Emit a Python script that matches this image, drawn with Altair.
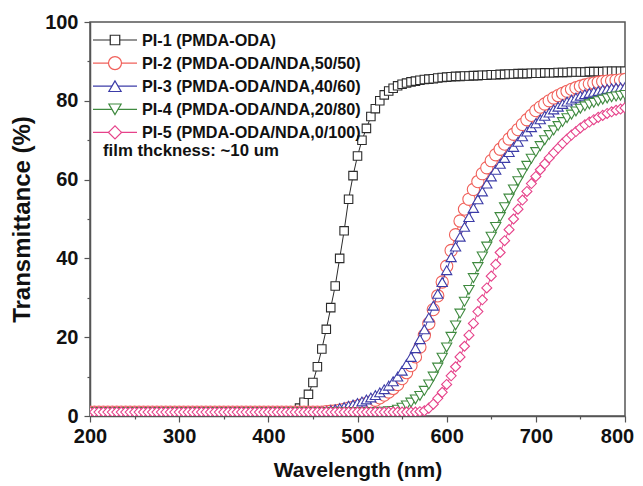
import altair as alt
import pandas as pd

WAVELENGTH = list(range(200, 805, 5))

PI1 = [
    1.0, 1.0, 1.0, 1.0, 1.0, 1.0, 1.0, 1.0, 1.0, 1.0,
    1.0, 1.0, 1.0, 1.0, 1.0, 1.0, 1.0, 1.0, 1.0, 1.0,
    1.0, 1.0, 1.0, 1.0, 1.0, 1.0, 1.0, 1.0, 1.0, 1.0,
    1.0, 1.0, 1.0, 1.0, 1.0, 1.0, 1.0, 1.0, 1.0, 1.0,
    1.0, 1.0, 1.0, 1.0, 1.0, 1.1, 1.3, 2.0, 3.5, 5.5,
    8.5, 12.5, 17.0, 22.0, 27.5, 33.0, 40.0, 47.0, 55.0, 61.0,
    66.0, 70.0, 73.0, 76.0, 78.0, 80.0, 81.5, 82.5, 83.2, 83.8,
    84.2, 84.5, 84.8, 85.0, 85.2, 85.4, 85.5, 85.6, 85.8, 85.9,
    86.0, 86.1, 86.2, 86.2, 86.3, 86.3, 86.4, 86.4, 86.5, 86.5,
    86.6, 86.6, 86.7, 86.7, 86.8, 86.8, 86.9, 86.9, 86.9, 87.0,
    87.0, 87.0, 87.1, 87.1, 87.1, 87.2, 87.2, 87.2, 87.3, 87.3,
    87.3, 87.3, 87.4, 87.4, 87.4, 87.4, 87.5, 87.5, 87.5, 87.5,
    87.5,
]

PI2 = [
    1.0, 1.0, 1.0, 1.0, 1.0, 1.0, 1.0, 1.0, 1.0, 1.0,
    1.0, 1.0, 1.0, 1.0, 1.0, 1.0, 1.0, 1.0, 1.0, 1.0,
    1.0, 1.0, 1.0, 1.0, 1.0, 1.0, 1.0, 1.0, 1.0, 1.0,
    1.0, 1.0, 1.0, 1.0, 1.0, 1.0, 1.0, 1.0, 1.0, 1.0,
    1.0, 1.0, 1.0, 1.0, 1.0, 1.0, 1.0, 1.0, 1.0, 1.0,
    1.0, 1.0, 1.0, 1.1, 1.2, 1.3, 1.5, 1.7, 2.0, 2.2,
    2.5, 2.8, 3.2, 3.6, 4.0, 4.6, 5.3, 6.1, 7.0, 8.0,
    9.5, 11.0, 12.8, 15.0, 17.5, 20.5, 23.5, 27.0, 30.5, 34.0,
    38.0, 42.0, 46.0, 49.5, 52.5, 55.0, 57.5, 59.5, 61.5, 63.0,
    64.8, 66.3, 67.7, 69.0, 70.3, 71.5, 72.7, 74.0, 75.2, 76.3,
    77.5, 78.4, 79.2, 80.0, 80.7, 81.3, 81.9, 82.4, 82.9, 83.3,
    83.7, 84.0, 84.3, 84.5, 84.7, 84.9, 85.0, 85.1, 85.2, 85.3,
    85.4,
]

PI3 = [
    1.0, 1.0, 1.0, 1.0, 1.0, 1.0, 1.0, 1.0, 1.0, 1.0,
    1.0, 1.0, 1.0, 1.0, 1.0, 1.0, 1.0, 1.0, 1.0, 1.0,
    1.0, 1.0, 1.0, 1.0, 1.0, 1.0, 1.0, 1.0, 1.0, 1.0,
    1.0, 1.0, 1.0, 1.0, 1.0, 1.0, 1.0, 1.0, 1.0, 1.0,
    1.0, 1.0, 1.0, 1.0, 1.0, 1.0, 1.0, 1.0, 1.0, 1.0,
    1.0, 1.0, 1.1, 1.2, 1.5, 1.7, 2.0, 2.3, 2.6, 2.9,
    3.3, 3.7, 4.2, 4.7, 5.3, 6.0, 6.8, 7.7, 8.8, 10.0,
    11.5, 13.2, 15.0, 17.2, 19.5, 22.0, 25.0, 28.0, 31.0, 34.0,
    37.0, 40.3, 43.0, 45.5, 48.0, 50.5, 52.8, 55.0, 57.0, 59.0,
    60.8, 62.5, 64.0, 65.5, 67.0, 68.3, 69.6, 71.0, 72.2, 73.3,
    74.3, 75.3, 76.2, 77.0, 77.8, 78.5, 79.2, 79.8, 80.3, 80.8,
    81.3, 81.7, 82.0, 82.3, 82.5, 82.8, 83.0, 83.2, 83.3, 83.4,
    83.5,
]

PI4 = [
    1.0, 1.0, 1.0, 1.0, 1.0, 1.0, 1.0, 1.0, 1.0, 1.0,
    1.0, 1.0, 1.0, 1.0, 1.0, 1.0, 1.0, 1.0, 1.0, 1.0,
    1.0, 1.0, 1.0, 1.0, 1.0, 1.0, 1.0, 1.0, 1.0, 1.0,
    1.0, 1.0, 1.0, 1.0, 1.0, 1.0, 1.0, 1.0, 1.0, 1.0,
    1.0, 1.0, 1.0, 1.0, 1.0, 1.0, 1.0, 1.0, 1.0, 1.0,
    1.0, 1.0, 1.0, 1.0, 1.0, 1.0, 1.0, 1.0, 1.0, 1.0,
    1.0, 1.0, 1.0, 1.0, 1.0, 1.0, 1.1, 1.2, 1.3, 1.6,
    2.1, 2.7, 3.4, 4.2, 5.1, 6.4, 8.0, 10.0, 12.3, 14.8,
    17.4, 20.1, 23.0, 26.0, 29.0, 32.0, 35.0, 37.8, 40.5, 43.0,
    45.5, 48.0, 50.5, 53.0, 55.2, 57.5, 59.6, 61.6, 63.5, 65.3,
    67.0, 68.5, 70.0, 71.3, 72.5, 73.6, 74.6, 75.6, 76.5, 77.3,
    78.0, 78.6, 79.1, 79.5, 79.9, 80.3, 80.6, 80.9, 81.1, 81.3,
    81.5,
]

PI5 = [
    1.0, 1.0, 1.0, 1.0, 1.0, 1.0, 1.0, 1.0, 1.0, 1.0,
    1.0, 1.0, 1.0, 1.0, 1.0, 1.0, 1.0, 1.0, 1.0, 1.0,
    1.0, 1.0, 1.0, 1.0, 1.0, 1.0, 1.0, 1.0, 1.0, 1.0,
    1.0, 1.0, 1.0, 1.0, 1.0, 1.0, 1.0, 1.0, 1.0, 1.0,
    1.0, 1.0, 1.0, 1.0, 1.0, 1.0, 1.0, 1.0, 1.0, 1.0,
    1.0, 1.0, 1.0, 1.0, 1.0, 1.0, 1.0, 1.0, 1.0, 1.0,
    1.0, 1.0, 1.0, 1.0, 1.0, 1.0, 1.0, 1.0, 1.0, 1.0,
    1.0, 1.0, 1.0, 1.0, 1.1, 1.3, 2.0, 3.0, 4.5, 6.0,
    8.0, 10.2, 12.5, 15.0, 17.7, 20.5, 23.5, 26.5, 29.5, 32.5,
    35.5, 38.5, 41.5, 44.5, 47.3, 50.0, 52.5, 54.8, 57.0, 59.0,
    60.8, 62.5, 64.0, 65.5, 66.8, 68.0, 69.2, 70.3, 71.3, 72.2,
    73.1, 73.9, 74.6, 75.2, 75.8, 76.3, 76.8, 77.2, 77.6, 77.9,
    78.2,
]

LABELS = [
    "PI-1 (PMDA-ODA)",
    "PI-2 (PMDA-ODA/NDA,50/50)",
    "PI-3 (PMDA-ODA/NDA,40/60)",
    "PI-4 (PMDA-ODA/NDA,20/80)",
    "PI-5 (PMDA-ODA/NDA,0/100)",
]
COLORS = ["#2b2b2b", "#f0605a", "#3c3ca8", "#3f8a3f", "#e6428a"]
SHAPES = ["square", "circle", "triangle-up", "triangle-down", "diamond"]
SIZES = [72, 150, 105, 105, 100]
LEGEND_SIZES = [90, 170, 150, 150, 170]
NOTE = "film thckness: ~10 um"

SERIES_VALUES = [PI1, PI2, PI3, PI4, PI5]
for s in SERIES_VALUES:
    assert len(s) == len(WAVELENGTH)

FONT = "Liberation Sans"

x_axis = alt.Axis(
    values=list(range(200, 801, 50)),
    labelExpr="datum.value % 100 === 0 ? datum.label : ''",
    tickSize={"condition": {"test": "datum.value % 100 === 0", "value": 6}, "value": 3},
    labelOffset={"condition": {"test": "datum.value === 800", "value": -8}, "value": 0},
    title="Wavelength (nm)",
    titleFontSize=21,
    grid=False,
    labelFlush=False,
    labelPadding=4,
    titlePadding=13,
)
y_axis = alt.Axis(
    values=list(range(0, 101, 10)),
    labelExpr="datum.value % 20 === 0 ? datum.label : ''",
    tickSize={"condition": {"test": "datum.value % 20 === 0", "value": 6}, "value": 3},
    title="Transmittance (%)",
    titleFontSize=24,
    grid=False,
    labelFlush=False,
    labelPadding=6,
    titlePadding=10,
)
x_scale = alt.Scale(domain=[200, 800], nice=False, zero=False)
y_scale = alt.Scale(domain=[0, 100], nice=False)

layers = []
for vals, color, shape, size in zip(SERIES_VALUES, COLORS, SHAPES, SIZES):
    df = pd.DataFrame({"wl": WAVELENGTH, "T": vals})
    base = alt.Chart(df).encode(
        x=alt.X("wl:Q", scale=x_scale, axis=x_axis),
        y=alt.Y("T:Q", scale=y_scale, axis=y_axis),
    )
    layers.append(base.mark_line(color=color, strokeWidth=1, clip=True))
    layers.append(
        base.mark_point(
            shape=shape, size=size, filled=True, fill="white", stroke=color,
            strokeWidth=1.1, opacity=1, fillOpacity=1, clip=True,
        )
    )

# legend drawn in pixel space inside the plot
ROW0, ROW_STEP = 18, 23.1
for i, (label, color, shape, size) in enumerate(zip(LABELS, COLORS, SHAPES, LEGEND_SIZES)):
    yy = ROW0 + i * ROW_STEP
    ldf = pd.DataFrame({"label": [label]})
    layers.append(
        alt.Chart(ldf).mark_rule(color=color, strokeWidth=1.2).encode(
            x=alt.value(3), x2=alt.value(47), y=alt.value(yy)
        )
    )
    layers.append(
        alt.Chart(ldf).mark_point(
            shape=shape, size=size, filled=True, fill="white", stroke=color,
            strokeWidth=1.2, opacity=1,
        ).encode(x=alt.value(25), y=alt.value(yy))
    )
    layers.append(
        alt.Chart(ldf).mark_text(
            align="left", baseline="middle", font=FONT, fontWeight="bold",
            fontSize=16.2, color="#111111",
        ).encode(x=alt.value(52), y=alt.value(yy + 1), text="label:N")
    )

ndf = pd.DataFrame({"label": [NOTE]})
layers.append(
    alt.Chart(ndf).mark_text(
        align="left", baseline="middle", font=FONT, fontWeight="bold",
        fontSize=16.8, color="#111111",
    ).encode(x=alt.value(13), y=alt.value(129), text="label:N")
)

chart = (
    alt.layer(*layers)
    .properties(
        width=535,
        height=394,
        autosize=alt.AutoSizeParams(type="none"),
        padding={"left": 82, "top": 14, "right": 10, "bottom": 66},
        background="white",
    )
    .configure_view(stroke="#555555", strokeWidth=1.5)
    .configure_axis(
        labelFont=FONT,
        labelFontWeight="bold",
        labelFontSize=20,
        labelColor="#111111",
        titleFont=FONT,
        titleFontWeight="bold",
        titleColor="#111111",
        domainColor="#555555",
        domainWidth=1.5,
        tickColor="#555555",
        tickWidth=1.2,
    )
)

chart.save("out.html", embed_options={"renderer": "svg", "actions": False})
